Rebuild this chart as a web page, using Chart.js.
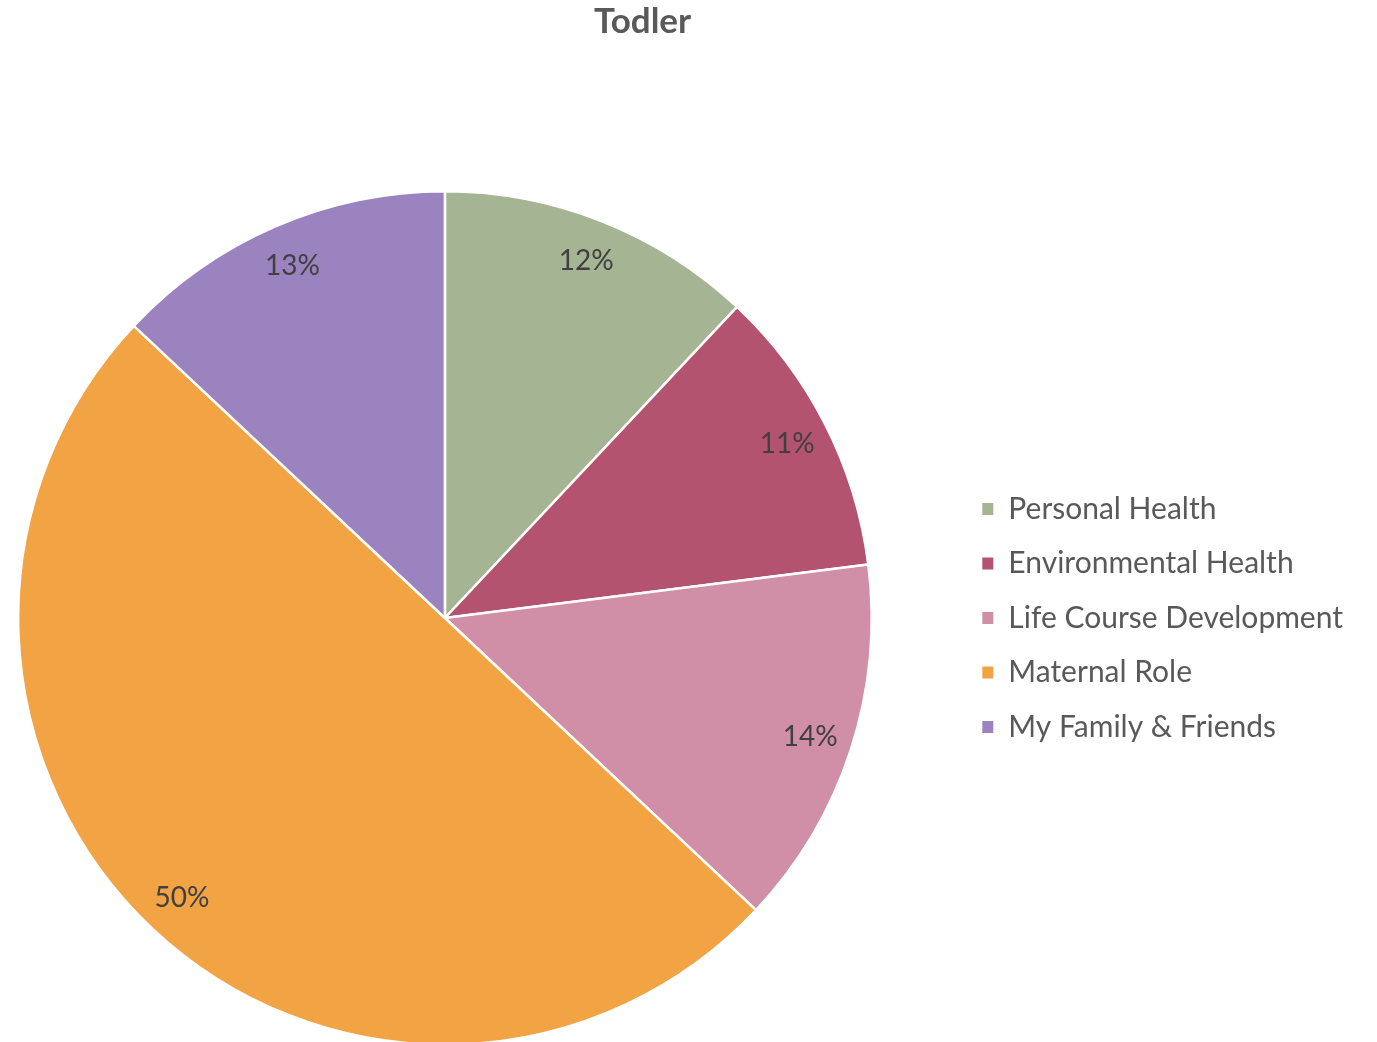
<!DOCTYPE html>
<html>
<head>
<meta charset="utf-8">
<script src="https://cdn.jsdelivr.net/npm/chart.js@4/dist/chart.umd.min.js"></script>
<style>
  html, body { margin: 0; padding: 0; background: #fff; overflow: hidden; }
  /* canvas starts left of the page so the pie sits where it should */
  #wrap { width: 1445px; height: 1046px; position: absolute; left: -68px; top: 0; }
</style>
</head>
<body>
<div id="wrap"><canvas id="myChart"></canvas></div>
<script>
const labels = ['Personal Health', 'Environmental Health', 'Life Course Development', 'Maternal Role', 'My Family & Friends'];
const values = [12, 11, 14, 50, 13];
const colors = ['#A5B492', '#B45370', '#D08FA6', '#F2A445', '#9B83C0'];

// percentage labels placed inside each slice
const pctLabels = {
  id: 'pctLabels',
  afterDatasetsDraw(chart) {
    const ctx = chart.ctx;
    const meta = chart.getDatasetMeta(0);
    const total = values.reduce((a, b) => a + b, 0);
    ctx.save();
    ctx.font = '28px Lato';
    ctx.fillStyle = '#404040';
    ctx.textAlign = 'center';
    ctx.textBaseline = 'middle';
    meta.data.forEach((arc, i) => {
      const mid = (arc.startAngle + arc.endAngle) / 2;
      const r = arc.outerRadius * 0.9;
      const x = arc.x + Math.cos(mid) * r;
      const y = arc.y + Math.sin(mid) * r;
      ctx.fillText(Math.round(values[i] / total * 100) + '%', x, y);
    });
    ctx.restore();
  }
};

const data = {
  labels,
  datasets: [{
    data: values,
    backgroundColor: colors,
    borderColor: '#ffffff',
    borderWidth: 2.5,
  }]
};

const config = {
  type: 'pie',
  data: data,
  plugins: [pctLabels],
  options: {
    responsive: true,
    maintainAspectRatio: false,
    animation: false,
    layout: {
      padding: { left: 0, right: 24, top: 0, bottom: 0 }
    },
    plugins: {
      tooltip: { enabled: false },
      title: {
        display: true,
        text: 'Todler',
        color: '#595959',
        font: { family: 'Lato', size: 35, weight: 'bold' },
        padding: { top: 1, bottom: 147 }
      },
      legend: {
        position: 'right',
        fullSize: false,
        labels: {
          color: '#595959',
          font: { family: 'Lato', size: 30 },
          boxWidth: 11,
          boxHeight: 12,
          padding: 24.5,
          generateLabels(chart) {
            return labels.map((t, i) => ({
              text: t,
              fillStyle: colors[i],
              strokeStyle: colors[i],
              lineWidth: 0,
              fontColor: '#595959',
              index: i,
              hidden: false
            }));
          }
        }
      }
    }
  }
};

const ctx = document.getElementById('myChart');
const myChart = new Chart(ctx, config);
</script>
</body>
</html>
